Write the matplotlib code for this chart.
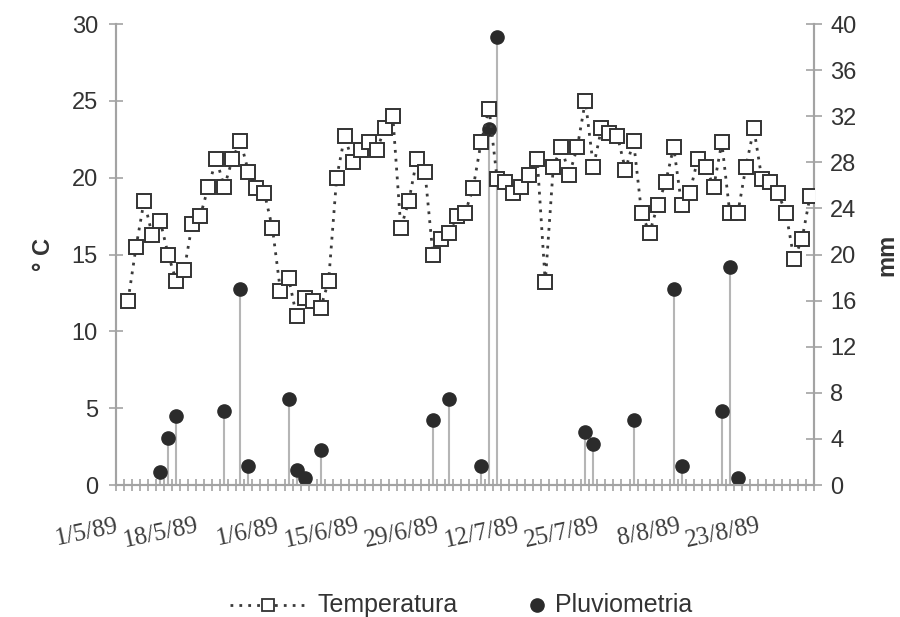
import numpy as np
import matplotlib
matplotlib.use("Agg")
import matplotlib.pyplot as plt
from matplotlib.lines import Line2D

# ---- data ----
n_categories = 87
# temperature (°C) for categories 1..86
temperatura = [12.0, 15.5, 18.5, 16.3, 17.2, 15.0, 13.3, 14.0, 17.0, 17.5,
               19.4, 21.2, 19.4, 21.2, 22.4, 20.4, 19.3, 19.0, 16.7, 12.6,
               13.5, 11.0, 12.2, 12.0, 11.5, 13.3, 20.0, 22.7, 21.0, 21.8,
               22.3, 21.8, 23.2, 24.0, 16.7, 18.5, 21.2, 20.4, 15.0, 16.0,
               16.4, 17.5, 17.7, 19.3, 22.3, 24.5, 19.9, 19.7, 19.0, 19.4,
               20.2, 21.2, 13.2, 20.7, 22.0, 20.2, 22.0, 25.0, 20.7, 23.2,
               22.9, 22.7, 20.5, 22.4, 17.7, 16.4, 18.2, 19.7, 22.0, 18.2,
               19.0, 21.2, 20.7, 19.4, 22.3, 17.7, 17.7, 20.7, 23.2, 19.9,
               19.7, 19.0, 17.7, 14.7, 16.0, 18.8]
temp_categories = list(range(1, 87))

# rainfall (mm)
pluvio_categories = [5, 6, 7, 13, 15, 16, 21, 22, 23, 25, 39, 41, 45, 46, 47,
                     58, 59, 64, 69, 70, 75, 76, 77]
pluviometria = [1.1, 4.05, 6.0, 6.45, 17.0, 1.65, 7.5, 1.3, 0.6, 3.0, 5.6, 7.5,
                1.65, 30.9, 38.9, 4.6, 3.55, 5.6, 17.0, 1.65, 6.45, 18.9, 0.6]

date_labels = ["1/5/89", "18/5/89", "1/6/89", "15/6/89", "29/6/89",
               "12/7/89", "25/7/89", "8/8/89", "23/8/89"]
label_categories = [0, 10, 20, 30, 40, 50, 60, 70, 80]

# ---- style ----
axis_col = "#a3a3a3"
text_col = "#333333"
sans = "Liberation Sans"
serif = "Liberation Serif"
temp_ls = (0, (1, 2.2))

fig = plt.figure(figsize=(9, 6.17), dpi=100)
ax_r = fig.add_axes([0.1289, 0.2139, 0.7756, 0.7472])
ax_t = ax_r.twinx()

# rainfall on right axis (drawn beneath)
ax_r.vlines(pluvio_categories, 0, pluviometria, colors="#b5b5b5", linewidth=1.5, zorder=2)
ax_r.plot(pluvio_categories, pluviometria, linestyle="none", marker="o",
          markersize=9.5, color="#2b2b2b", zorder=3)
ax_r.set_ylim(0, 40)
ax_r.set_yticks(np.arange(0, 41, 4))
ax_r.yaxis.tick_right()
ax_r.yaxis.set_label_position("right")
ax_r.set_xlim(-0.5, n_categories - 0.5)

# temperature on left axis (drawn on top)
ax_t.plot(temp_categories, temperatura, linestyle=temp_ls, linewidth=2.0,
          color="#3a3a3a", marker="s", markersize=9.5, markerfacecolor="white",
          markeredgecolor="#333333", markeredgewidth=1.4, zorder=4)
ax_t.set_ylim(0, 30)
ax_t.set_yticks(np.arange(0, 31, 5))
ax_t.yaxis.tick_left()
ax_t.yaxis.set_label_position("left")
ax_t.set_xlim(-0.5, n_categories - 0.5)

# x ticks at category boundaries
boundaries = np.arange(-0.5, n_categories, 1.0)
ax_r.set_xticks(boundaries, minor=True)
ax_r.set_xticks([c - 0.5 for c in label_categories])
ax_r.set_xticklabels(date_labels, rotation=12, ha="right", va="top",
                     rotation_mode="anchor", fontfamily=serif, fontsize=18,
                     color="#3c3c3c")
ax_r.tick_params(axis="x", which="both", direction="inout", length=9,
                 width=1.2, color=axis_col, pad=17)
ax_t.tick_params(axis="x", which="both", bottom=False, labelbottom=False)

ax_r.tick_params(axis="y", direction="inout", length=11, width=1.2,
                 color=axis_col, labelsize=17, labelcolor=text_col, pad=6)
ax_t.tick_params(axis="y", direction="inout", length=10, width=1.2,
                 color=axis_col, labelsize=17, labelcolor=text_col, pad=8)
for lab in ax_r.get_yticklabels() + ax_t.get_yticklabels():
    lab.set_fontfamily(sans)

for a in (ax_r, ax_t):
    a.spines["top"].set_visible(False)
    for s in ("left", "right", "bottom"):
        a.spines[s].set_color(axis_col)
        a.spines[s].set_linewidth(1.5)

ax_t.set_ylabel("° C", fontfamily=sans, fontsize=17, fontweight="bold",
                color=text_col, labelpad=12)
ax_r.set_ylabel("mm", fontfamily=sans, fontsize=17, fontweight="bold",
                color=text_col, labelpad=14)

# legend (built manually in figure pixel coordinates)
W, H = 900.0, 617.0
ly = 1 - 605 / H
fig.add_artist(Line2D([230 / W, 310 / W], [ly, ly], linestyle=temp_ls,
                      linewidth=2.0, color="#3a3a3a", transform=fig.transFigure))
fig.add_artist(Line2D([268 / W], [ly], linestyle="none", marker="s",
                      markersize=9, markerfacecolor="white",
                      markeredgecolor="#333333", markeredgewidth=1.3,
                      transform=fig.transFigure))
fig.add_artist(Line2D([537 / W], [ly], linestyle="none", marker="o",
                      markersize=9.5, color="#2b2b2b", transform=fig.transFigure))
fig.text(318 / W, ly, "Temperatura", fontfamily=sans, fontsize=18,
         color=text_col, ha="left", va="center")
fig.text(555 / W, ly, "Pluviometria", fontfamily=sans, fontsize=18,
         color=text_col, ha="left", va="center")

fig.savefig("out.png", dpi=100, facecolor="white")
